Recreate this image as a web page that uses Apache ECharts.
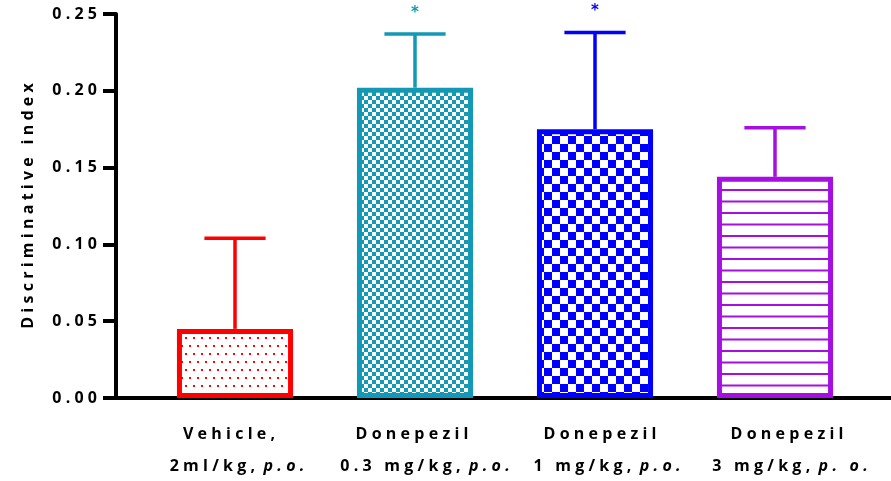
<!DOCTYPE html>
<html><head><meta charset="utf-8">
<script src="https://cdn.jsdelivr.net/npm/echarts@6/dist/echarts.min.js"></script>
<style>html,body{margin:0;padding:0;background:#fff}#c{width:891px;height:481px}</style>
</head><body><div id="c"></div><script>
// ---- data ----
const categories = ['Vehicle,', 'Donepezil', 'Donepezil', 'Donepezil'];
const doses = ['2ml/kg, ', '0.3 mg/kg, ', '1 mg/kg, ', '3 mg/kg, '];
const routes = ['p.o.', 'p.o.', 'p.o.', 'p. o.'];
const means = [0.045, 0.202, 0.175, 0.144];
const errors = [0.059, 0.035, 0.063, 0.032];
const significance = ['', '*', '*', ''];
const yName = 'Discriminative index';
const colors = ['#ff0000', '#1399b5', '#0000ff', '#a50fe2'];

// label horizontal nudges (style only, px)
const shift1 = [-6, -3, 5, 12];
const shift2 = [2, 10, 12, 15];

const FONT = 'Open Sans';
const GAP = '\u2009\u200A';
const sp = s => String(s).split('').join(GAP);

function tile(w, h, draw) {
  const c = document.createElement('canvas'); c.width = w; c.height = h;
  const g = c.getContext('2d'); g.fillStyle = '#fff'; g.fillRect(0, 0, w, h); draw(g); return c;
}
const patterns = [
  tile(8, 16, g => { g.fillStyle = colors[0]; g.fillRect(1, 1, 2, 2); g.fillRect(5, 9, 2, 2); }),
  tile(8, 8, g => { g.fillStyle = colors[1]; g.fillRect(0, 0, 4, 4); g.fillRect(4, 4, 4, 4); }),
  tile(16, 16, g => { g.fillStyle = colors[2]; g.fillRect(0, 0, 8, 8); g.fillRect(8, 8, 8, 8); }),
  tile(8, 23, g => { g.fillStyle = colors[3]; g.fillRect(0, 5, 8, 2); g.fillRect(0, 16.5, 8, 2); })
];

const txt = { fontFamily: FONT, fontWeight: 'bold', fontSize: 16, color: '#000', lineHeight: 32 };
const pad = d => d >= 0 ? [0, 0, 0, 2 * d] : [0, -2 * d, 0, 0];
const rich = {};
categories.forEach((c, i) => {
  rich['a' + i] = Object.assign({}, txt, { padding: pad(shift1[i]) });
  rich['b' + i] = Object.assign({}, txt, { padding: pad(shift2[i]).map((p, k) => k === 1 ? 0 : p) });
  rich['c' + i] = Object.assign({}, txt, { fontStyle: 'italic', padding: [0, pad(shift2[i])[1], 0, 0] });
});

const chart = echarts.init(document.getElementById('c'), null, { renderer: 'canvas' });
chart.setOption({
  animation: false,
  backgroundColor: '#fff',
  grid: [
    { left: 116, right: 0, top: 14, bottom: 83 },
    { left: 145, right: 26, top: 14, bottom: 83 }
  ],
  xAxis: [
    { type: 'value', gridIndex: 0, min: 0, max: 1, axisLine: { show: true, lineStyle: { color: '#000', width: 4 } },
      axisTick: { show: false }, axisLabel: { show: false }, splitLine: { show: false } },
    { type: 'category', gridIndex: 1, data: categories.map((c, i) => String(i)),
      axisLine: { show: false }, axisTick: { show: false },
      axisLabel: { interval: 0, margin: 20,
        formatter: (v, i) => '{a' + i + '|' + sp(categories[i]) + '}\n{b' + i + '|' + sp(doses[i]) + '}{c' + i + '|' + sp(routes[i]) + '}',
        rich: rich } }
  ],
  yAxis: [
    { type: 'value', gridIndex: 0, min: 0, max: 0.25, interval: 0.05,
      axisLine: { show: true, lineStyle: { color: '#000', width: 4 } },
      axisTick: { show: true, length: 13, lineStyle: { color: '#000', width: 4 } },
      axisLabel: { fontFamily: FONT, fontWeight: 'bold', fontSize: 16, color: '#000', margin: 19, formatter: v => sp(v.toFixed(2)) },
      splitLine: { show: false },
      name: sp(yName), nameLocation: 'middle', nameGap: 80,
      nameTextStyle: { fontFamily: FONT, fontWeight: 'bold', fontSize: 16, color: '#000' } },
    { type: 'value', gridIndex: 1, min: 0, max: 0.25, interval: 0.05, show: false }
  ],
  series: [
    { type: 'bar', xAxisIndex: 1, yAxisIndex: 1, barWidth: '64.5%', z: 2,
      data: means.map((v, i) => ({ value: v, itemStyle: { color: { image: patterns[i], repeat: 'repeat' }, borderColor: colors[i], borderWidth: 5 } })) },
    { type: 'custom', xAxisIndex: 1, yAxisIndex: 1, z: 3,
      data: means.map((m, i) => [i, m, m + errors[i]]),
      renderItem: (params, api) => {
        const i = api.value(0);
        const base = api.coord([i, api.value(1)]);
        const top = api.coord([i, api.value(2)]);
        const half = api.size([1, 0])[0] * 0.17;
        const col = colors[i];
        const ch = [
          { type: 'line', shape: { x1: base[0], y1: base[1], x2: top[0], y2: top[1] }, style: { stroke: col, lineWidth: 3.5 } },
          { type: 'line', shape: { x1: top[0] - half, y1: top[1], x2: top[0] + half, y2: top[1] }, style: { stroke: col, lineWidth: 3.5 } }
        ];
        if (significance[i]) ch.push({ type: 'text', x: top[0], y: top[1] - 21,
          style: { text: significance[i], fill: col, font: 'bold 15px "DejaVu Sans"', align: 'center', verticalAlign: 'middle' } });
        return { type: 'group', children: ch };
      } }
  ]
});
</script></body></html>
